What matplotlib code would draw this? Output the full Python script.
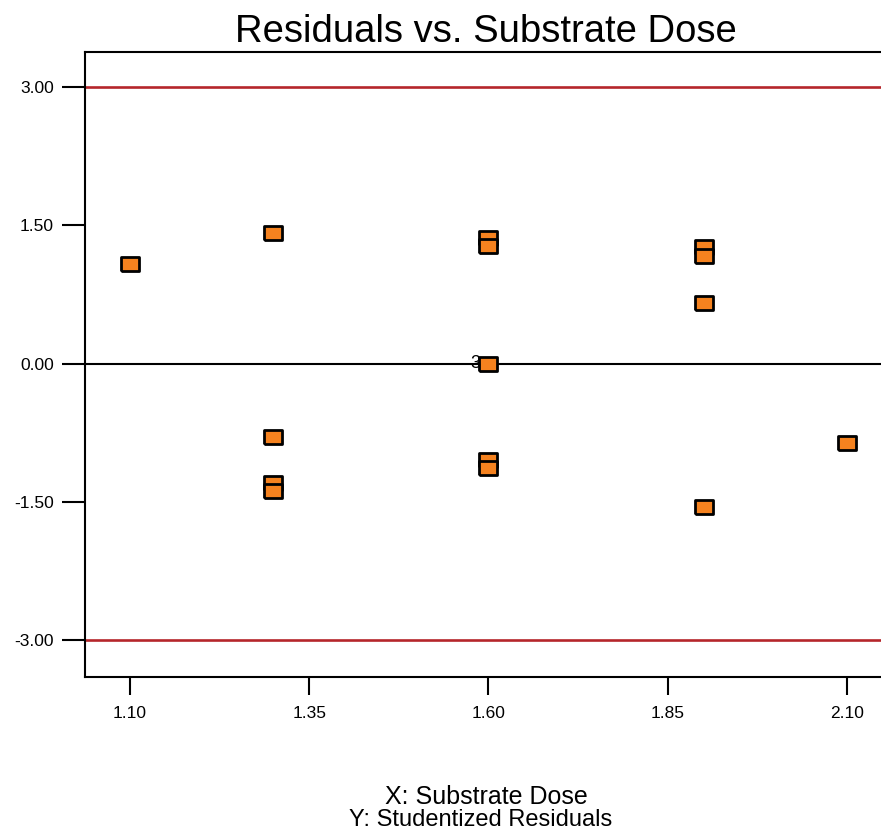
import matplotlib
matplotlib.use('Agg')
import matplotlib.pyplot as plt

plt.rcParams['font.family'] = ['Liberation Sans', 'DejaVu Sans']

# studentized residuals grouped by substrate dose
dose = [1.10, 1.30, 1.30, 1.30, 1.30, 1.60, 1.60, 1.60, 1.60, 1.60,
        1.90, 1.90, 1.90, 1.90, 2.10]
resid = [1.085, 1.42, -0.80, -1.30, -1.38, 1.36, 1.28, 0.0, -1.05, -1.13,
         1.26, 1.17, 0.66, -1.56, -0.86]
xticks = [1.10, 1.35, 1.60, 1.85, 2.10]
yticks = [-3.00, -1.50, 0.00, 1.50, 3.00]
limit = 3.0

fig = plt.figure(figsize=(8.81, 8.36), dpi=100)
ax = fig.add_axes([85 / 881, 159 / 836, 1 - 85 / 881, 625 / 836])

ax.axhline(limit, color='#b5262b', lw=1.9, zorder=1)
ax.axhline(-limit, color='#b5262b', lw=1.9, zorder=1)
ax.axhline(0, color='black', lw=1.5, zorder=1)

rect = [(-1, -0.8), (1, -0.8), (1, 0.8), (-1, 0.8), (-1, -0.8)]
ax.scatter(dose, resid, marker=rect, s=150, c='#f5821f', edgecolors='black',
           linewidths=2, zorder=3)
# count of coincident points at the centre
ax.text(1.60 - 0.011, 0.0, '3', ha='right', va='center', fontsize=13)

ax.set_xlim(1.0372, 2.1475)
ax.set_ylim(-3.40, 3.38)
ax.set_xticks(xticks)
ax.set_xticklabels(['%.2f' % v for v in xticks])
ax.set_yticks(yticks)
ax.set_yticklabels(['%.2f' % v for v in yticks])
ax.tick_params(axis='x', length=13, width=1.5, pad=8, labelsize=12.5)
ax.tick_params(axis='y', length=16.5, width=1.5, pad=6, labelsize=12.5)

for side in ['left', 'bottom', 'top']:
    ax.spines[side].set_linewidth(1.5)
ax.spines['right'].set_visible(False)

fig.text(486 / 881, 1 - 32 / 836, 'Residuals vs. Substrate Dose', ha='center',
         va='center', fontsize=27.5)
fig.text(486 / 881, 1 - 797 / 836, 'X: Substrate Dose', ha='center', va='center',
         fontsize=18)
fig.text(481 / 881, 1 - 820 / 836, 'Y: Studentized Residuals', ha='center',
         va='center', fontsize=17)

fig.savefig('out.png', dpi=100)
